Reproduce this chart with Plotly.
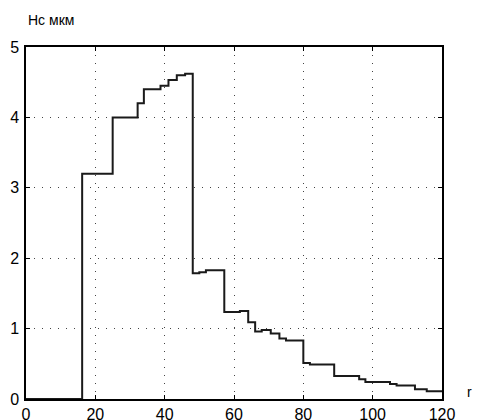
import plotly.graph_objects as go

# Step edges (r) and step heights (Hc, мкм)
r_edges = [16.2, 25, 32.2, 34, 38.8, 41.1, 43.5, 45.9, 48.1, 50, 51.9, 57.2,
           61.7, 64.1, 66.1, 68, 70.6, 73.1, 75, 80, 81.9, 88.9, 96.1, 97.9,
           105, 106.9, 112.2, 115.6, 120]
hc_values = [3.2, 4.0, 4.2, 4.4, 4.45, 4.53, 4.6, 4.62, 1.785, 1.80, 1.83,
             1.236, 1.25, 1.09, 0.96, 0.98, 0.93, 0.86, 0.83, 0.51, 0.49,
             0.327, 0.28, 0.24, 0.213, 0.19, 0.14, 0.11]
x_ticks = [0, 20, 40, 60, 80, 100, 120]
y_ticks = [0, 1, 2, 3, 4, 5]

xs = [0, r_edges[0]] + r_edges[1:]
ys = [0] + hc_values + [hc_values[-1]]

fig = go.Figure()
fig.add_trace(go.Scatter(x=xs, y=ys, mode="lines", line_shape="hv",
                         line=dict(color="#1a1a1a", width=2), hoverinfo="skip"))

font = dict(family="Liberation Sans, Arial, sans-serif", size=16, color="black")
fig.update_layout(
    width=477, height=420,
    margin=dict(l=26, r=35, t=47, b=21),
    paper_bgcolor="white", plot_bgcolor="white",
    showlegend=False,
    font=font,
    xaxis=dict(range=[0, 120], tickvals=x_ticks, ticks="inside", ticklen=4,
               tickcolor="black", showline=True, mirror="ticks",
               linecolor="black", linewidth=1.5, showgrid=True,
               gridcolor="#444", griddash="1px,7px", gridwidth=1,
               zeroline=False, tickfont=font, ticklabelstandoff=0,
               automargin=False),
    yaxis=dict(range=[0, 5], tickvals=y_ticks, ticks="inside", ticklen=4,
               tickcolor="black", showline=True, mirror="ticks",
               linecolor="black", linewidth=1.5, showgrid=True,
               gridcolor="#444", griddash="1px,7px", gridwidth=1,
               zeroline=False, tickfont=font, ticklabelstandoff=2,
               automargin=False),
    annotations=[
        dict(text="Нс мкм", xref="paper", yref="paper", x=0, y=1,
             xanchor="left", yanchor="middle", yshift=27, showarrow=False,
             font=dict(family="Liberation Sans, Arial, sans-serif", size=14, color="black")),
        dict(text="r", xref="paper", yref="paper", x=1, y=0,
             xanchor="left", yanchor="middle", xshift=24, yshift=7, showarrow=False,
             borderpad=0,
             font=dict(family="Liberation Sans, Arial, sans-serif", size=14, color="black")),
    ],
)
fig.write_html("out.html", config={"displayModeBar": False},
               post_script="document.body.style.margin='0';document.body.style.overflow='hidden';")
